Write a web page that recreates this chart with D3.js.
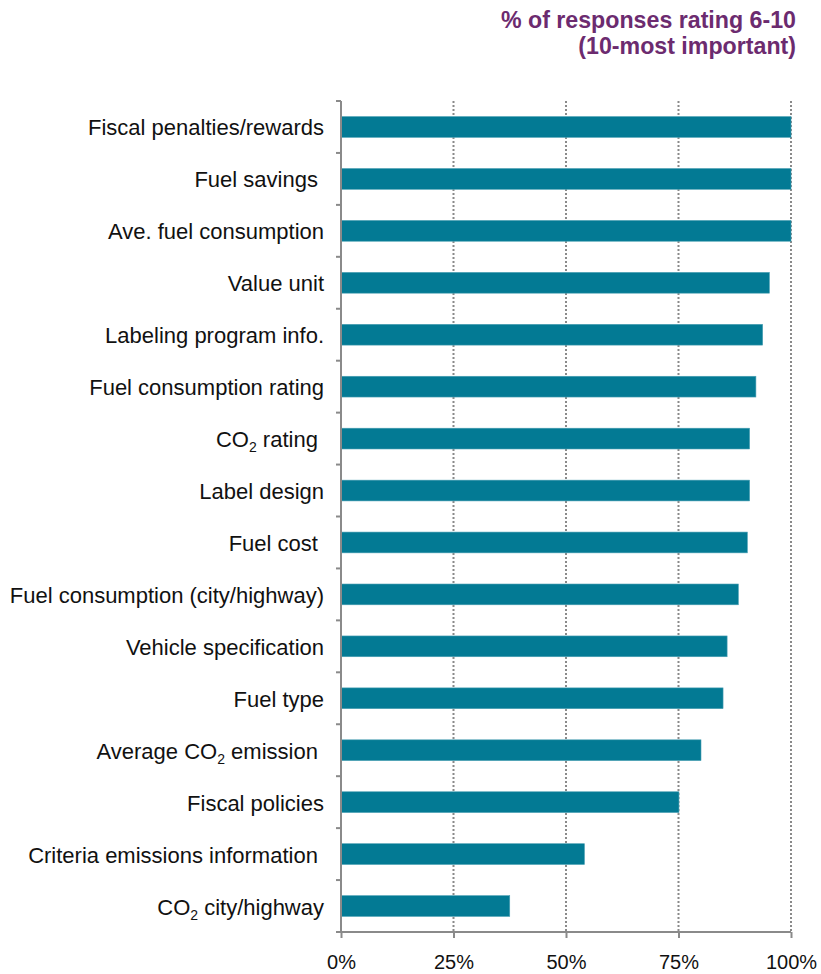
<!DOCTYPE html>
<html>
<head>
<meta charset="utf-8">
<script src="https://cdn.jsdelivr.net/npm/d3@7"></script>
<style>
  html, body { margin: 0; padding: 0; background: #fff; }
  svg { display: block; font-family: "Liberation Sans", Arial, Helvetica, sans-serif; }
  .cat text { white-space: pre; }
</style>
</head>
<body>
<svg id="chart" width="821" height="974"></svg>
<script>
// ---- data ----
// label parts: [text, isSubscript]
var categories = [
  [["Fiscal penalties/rewards", false]],
  [["Fuel savings ", false]],
  [["Ave. fuel consumption", false]],
  [["Value unit", false]],
  [["Labeling program info.", false]],
  [["Fuel consumption rating", false]],
  [["CO", false], ["2", true], [" rating ", false]],
  [["Label design", false]],
  [["Fuel cost ", false]],
  [["Fuel consumption (city/highway)", false]],
  [["Vehicle specification", false]],
  [["Fuel type", false]],
  [["Average CO", false], ["2", true], [" emission ", false]],
  [["Fiscal policies", false]],
  [["Criteria emissions information ", false]],
  [["CO", false], ["2", true], [" city/highway", false]]
];
var values = [100, 100, 100, 95.2, 93.7, 92.2, 90.8, 90.8, 90.3, 88.3, 85.8, 84.9, 80.0, 75.1, 54.1, 37.5];
var xTicks = [0, 25, 50, 75, 100];
var titleLines = ["% of responses rating 6-10", "(10-most important)"];

(function () {
  'use strict';

  // ---- layout ----
  var plotL = 341, plotR = 791, plotT = 101, plotB = 932;
  var barColor = "#037a94", axisColor = "#8a8a8a", gridColor = "#8a8a8a";

  var svg = d3.select("#chart");
  var idx = d3.range(categories.length);

  var x = d3.scaleLinear().domain([0, 100]).range([plotL, plotR]);
  var y = d3.scaleBand().domain(idx).range([plotT, plotB]).paddingInner(0.6).paddingOuter(0.3);
  var yEdge = d3.scaleLinear().domain([0, categories.length]).range([plotT, plotB]);

  // title
  svg.append("g").selectAll("text").data(titleLines).join("text")
    .attr("x", 796).attr("y", function (d, i) { return 28 + i * 26; })
    .attr("text-anchor", "end")
    .attr("font-size", 23.2).attr("font-weight", "bold")
    .attr("fill", "#6c2b6f")
    .text(function (d) { return d; });

  // gridlines
  svg.append("g").selectAll("line").data(xTicks.slice(1)).join("line")
    .attr("x1", function (d) { return x(d); }).attr("x2", function (d) { return x(d); })
    .attr("y1", plotT).attr("y2", plotB)
    .attr("stroke", gridColor).attr("stroke-width", 2).attr("stroke-dasharray", "2 2");

  // bars
  svg.append("g").selectAll("rect").data(values).join("rect")
    .attr("x", x(0))
    .attr("y", function (d, i) { return y(i); })
    .attr("width", function (d) { return x(d) - x(0); })
    .attr("height", y.bandwidth())
    .attr("fill", barColor)
    .attr("stroke", "#4a9fb3").attr("stroke-width", 0.6);

  // left axis + category tick marks
  var yAxisG = svg.append("g");
  yAxisG.append("line")
    .attr("x1", plotL).attr("x2", plotL).attr("y1", plotT).attr("y2", plotB)
    .attr("stroke", axisColor).attr("stroke-width", 2);
  yAxisG.selectAll("line.tk").data(d3.range(categories.length + 1)).join("line")
    .attr("class", "tk")
    .attr("x1", plotL - 5).attr("x2", plotL)
    .attr("y1", function (d) { return yEdge(d); }).attr("y2", function (d) { return yEdge(d); })
    .attr("stroke", axisColor).attr("stroke-width", 2);

  // category labels
  var cat = svg.append("g").attr("class", "cat");
  cat.selectAll("text").data(categories).join("text")
    .attr("x", 324)
    .attr("y", function (d, i) { return y(i) + y.bandwidth() / 2 + 8.5; })
    .attr("text-anchor", "end")
    .attr("font-size", 22).attr("fill", "#111")
    .each(function (parts) {
      var t = d3.select(this);
      var prevSub = false;
      parts.forEach(function (p) {
        var s = t.append("tspan").text(p[0]);
        if (p[1]) { s.attr("font-size", 14).attr("dy", 5); prevSub = true; }
        else if (prevSub) { s.attr("dy", -5); prevSub = false; }
      });
    });

  // bottom axis
  var xAxis = d3.axisBottom(x).tickValues(xTicks)
    .tickFormat(function (d) { return d + "%"; })
    .tickSize(6).tickPadding(17);
  var xg = svg.append("g").attr("transform", "translate(0," + plotB + ")").call(xAxis);
  xg.select(".domain").attr("stroke", axisColor).attr("stroke-width", 2)
    .attr("d", "M" + plotL + ",0H" + plotR);
  xg.selectAll(".tick line").attr("stroke", axisColor).attr("stroke-width", 2);
  xg.selectAll(".tick text").attr("font-size", 20).attr("fill", "#111")
    .attr("font-family", "'Liberation Sans', Arial, sans-serif");
})();
</script>
</body>
</html>
